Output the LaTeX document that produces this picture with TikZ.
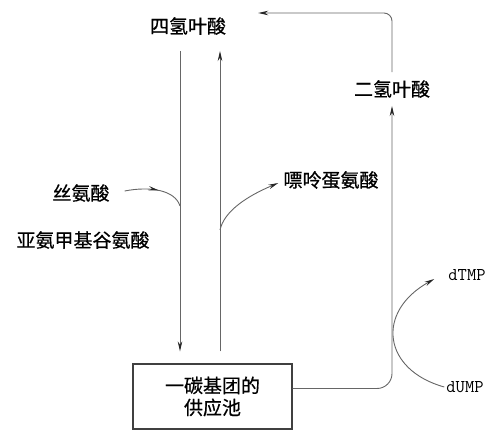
\documentclass[tikz,border=0pt]{standalone}
\usepackage{fontspec}
\newfontfamily\cjk[FakeBold=0.6]{Noto Sans CJK SC}
\usetikzlibrary{arrows.meta,decorations.markings}
\tikzset{
  tip/.style={-{Stealth[length=10pt,width=4.5pt,color=black!85]}},
  wire/.style={draw=black!60, line width=0.9pt},
  flow/.style={wire, tip},
  lbl/.style={font=\cjk\fontsize{19}{22}\selectfont, inner sep=0pt},
  tag/.style={font=\ttfamily\fontsize{18}{20}\selectfont, inner sep=0pt},
}

\begin{document}
\begin{tikzpicture}[x=1pt,y=-1pt]
    \useasboundingbox (0,0) rectangle (500,435);

    \node[lbl, inner xsep=32pt, inner ysep=16pt] (thf) at (188,26) {四氢叶酸};
    \node[lbl, inner ysep=8pt] (dhf) at (392,89) {二氢叶酸};
    \node[lbl] (ser) at (81,193) {丝氨酸};
    \node[lbl] (fig) at (83,240) {亚氨甲基谷氨酸};
    \node[lbl] (pur) at (331,180) {嘌呤蛋氨酸};
    \node[tag] (dtmp) at (467,275) {dTMP};
    \node[tag] (dump) at (465,387) {dUMP};
    \node[lbl, draw=black!75, line width=1.2pt, minimum width=159pt, minimum height=65pt, align=center] (pool) at (212.5,396.5) {一碳基团的\\供应池};

    % down and up
    \coordinate (l1) at ([xshift=-8pt]thf.south);
    \coordinate (r1) at ([xshift=32pt]thf.south);
    \draw[flow, shorten >=12pt] (l1) -- (l1 |- pool.north);
    \draw[flow, shorten <=12pt] (r1 |- pool.north) -- (r1);

    % side inputs and outputs
    \coordinate (sj) at (180,206);
    \coordinate (pj) at (220,230);
    \draw[wire, postaction=decorate, decoration={markings, mark=at position 0.55 with {\arrow{Stealth[length=10pt,width=4.5pt,color=black!85]}}}]
        ([xshift=15pt,yshift=2pt]ser.east) .. controls (150,186) and (175,190) .. (sj);
    \draw[flow] (pj) .. controls (224,212) and (245,197) .. ([xshift=-5pt,yshift=-3pt]pur.west);

    % loop through DHF
    \draw[flow, rounded corners=15pt] ([yshift=8pt]pool.east) -| (dhf.south);
    \draw[flow, rounded corners=8pt] (dhf.north) |- ([yshift=13pt]thf.east);

    % dUMP to dTMP
    \draw[flow] ([xshift=-2pt]dump.west) .. controls (383,370) and (375,312) .. ([xshift=-14pt,yshift=-4pt]dtmp.west);
\end{tikzpicture}
\end{document}
